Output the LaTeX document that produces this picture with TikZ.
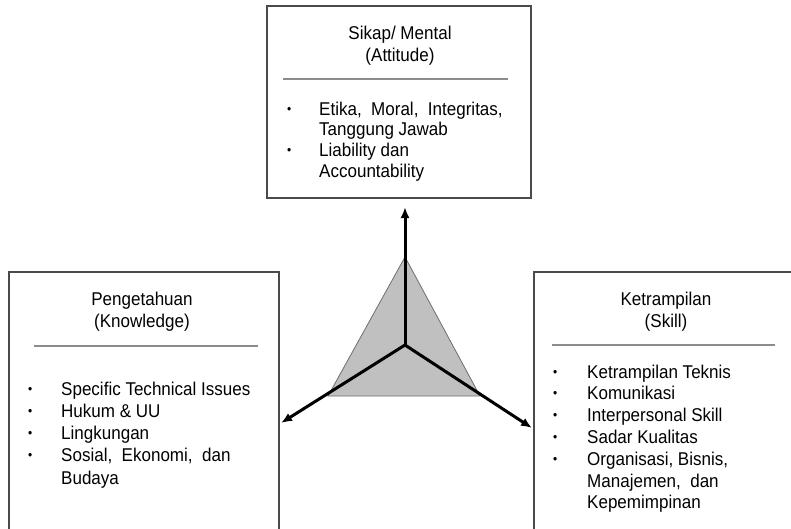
\documentclass[tikz,border=0pt]{standalone}
\usepackage{fontspec}
\setmainfont{Liberation Sans}[FakeStretch=0.92]
\usetikzlibrary{arrows.meta}
\definecolor{boxline}{HTML}{4A4A4A}
\definecolor{sepline}{HTML}{8C8C8C}
\definecolor{trifill}{HTML}{C0C0C0}
\definecolor{triline}{HTML}{6E6E6E}
\newcommand{\bul}{\raisebox{2pt}{\fontsize{13}{13}\selectfont •}}
\begin{document}
\begin{tikzpicture}[x=1pt,y=-1pt,
  panel/.style={draw=boxline, line width=1.4pt, inner sep=0pt, fill=none},
  sepl/.style={draw=sepline, line width=1.6pt},
  ttl/.style={inner sep=0pt, anchor=base, font=\fontsize{18.5}{22}\selectfont},
  lst/.style={inner sep=0pt, anchor=base west},
  axis/.style={line width=3pt, line cap=round, line join=round, -{Latex[length=11pt,width=9pt]}},
  tri/.style={fill=trifill, draw=triline, line width=0.8pt}]
\useasboundingbox (0,0) rectangle (791,528);
\clip (0,0) rectangle (791,528);
\fill[white] (0,0) rectangle (791,528);

% panels
\node[panel, minimum width=264pt, minimum height=192pt] (topbox) at (399,102) {};
\node[panel, minimum width=270pt, minimum height=290pt] (leftbox) at (144,417) {};
\node[panel, minimum width=266pt, minimum height=290pt] (rightbox) at (667,417) {};

% titles
\node[ttl] (toptitle) at (400,39) {\begin{tabular}[t]{@{}c@{}}Sikap/ Mental\\(Attitude)\end{tabular}};
\node[ttl] (lefttitle) at (142,305) {\begin{tabular}[t]{@{}c@{}}Pengetahuan\\(Knowledge)\end{tabular}};
\node[ttl] (righttitle) at (666,305) {\begin{tabular}[t]{@{}c@{}}Ketrampilan\\(Skill)\end{tabular}};

% separators
\draw[sepl] (283,79) -- (508,79);
\draw[sepl] (34,346) -- (258,346);
\draw[sepl] (552,345) -- (775,345);

% lists
\node[lst] (toplist) at (287,115) {\fontsize{18.5}{20.8}\selectfont
  \begin{tabular}[t]{@{}p{32pt}@{}l@{}}
  \bul & Etika,\ \ Moral,\ \ Integritas,\\
       & Tanggung Jawab\\
  \bul & Liability dan\\
       & Accountability
  \end{tabular}};
\node[lst] (leftlist) at (28,395) {\fontsize{18.5}{22.3}\selectfont
  \begin{tabular}[t]{@{}p{33pt}@{}l@{}}
  \bul & Specific Technical Issues\\
  \bul & Hukum \& UU\\
  \bul & Lingkungan\\
  \bul & Sosial,\ \ Ekonomi,\ \ dan\\
       & Budaya
  \end{tabular}};
\node[lst] (rightlist) at (553,378) {\fontsize{18.5}{21.8}\selectfont
  \begin{tabular}[t]{@{}p{34pt}@{}l@{}}
  \bul & Ketrampilan Teknis\\
  \bul & Komunikasi\\
  \bul & Interpersonal Skill\\
  \bul & Sadar Kualitas\\
  \bul & Organisasi, Bisnis,\\
       & Manajemen,\ \ dan\\
       & Kepemimpinan
  \end{tabular}};

% triangle and axes
\coordinate (C) at (405,345);
\coordinate (A) at (405,257);
\coordinate (BL) at (328,396);
\coordinate (BR) at (480,396);
\coordinate (tipU) at (405,207);
\coordinate (tipL) at (281,423);
\coordinate (tipR) at (532,428);
\filldraw[tri] (A) -- (BL) -- (BR) -- cycle;
\draw[axis] (C) -- (tipU);
\draw[axis] (C) -- (tipL);
\draw[axis] (C) -- (tipR);
\end{tikzpicture}
\end{document}
